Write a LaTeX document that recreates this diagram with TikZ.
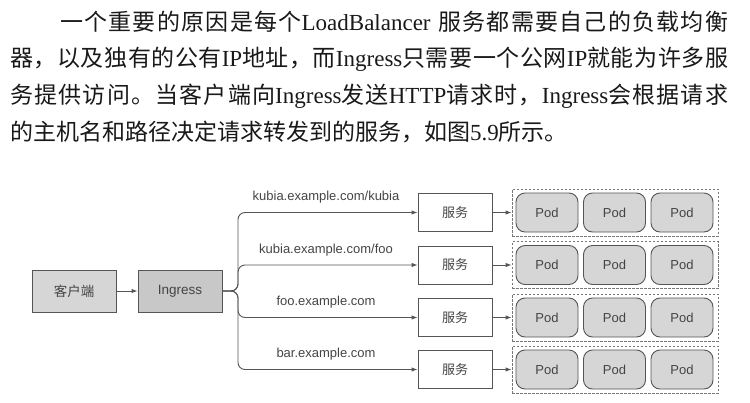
\documentclass[tikz,border=0pt]{standalone}
\usepackage{fontspec}
\setmainfont{Liberation Serif}
\newfontfamily\cjk{Noto Sans CJK SC}
\newfontfamily\dsans{Liberation Sans}
\usetikzlibrary{arrows.meta}
\makeatletter
\newXeTeXintercharclass\hanclass
\count@="3000
\loop
  \XeTeXcharclass\count@=\hanclass
  \advance\count@ by 1
\ifnum\count@<"A000 \repeat
\XeTeXcharclass"FF0C=\hanclass
\makeatother
\XeTeXinterchartoks\hanclass\hanclass={\hskip 0pt plus 2pt\relax}
\XeTeXinterchartoks\hanclass 0={\hskip 0pt plus 2pt\relax}
\XeTeXinterchartoks 0\hanclass={\hskip 0pt plus 2pt\relax}
\XeTeXinterchartokenstate=1
\definecolor{dg}{HTML}{555555}
\definecolor{tg}{HTML}{444444}
\definecolor{clientfill}{HTML}{D6D6D6}
\definecolor{ingfill}{HTML}{C8C8C8}
\definecolor{podfill}{HTML}{D6D6D6}
\definecolor{dashc}{HTML}{777777}
\tikzset{
  para/.style={anchor=west, inner sep=0pt, font=\fontsize{23}{23}\selectfont, text=black!90},
  mainbox/.style={draw=dg, line width=0.9pt, minimum width=84pt, minimum height=42pt, inner sep=0pt, text=tg},
  svcbox/.style={draw=dg, fill=white, line width=0.9pt, minimum width=74pt, minimum height=38pt, inner sep=0pt, text=tg, font=\fontsize{13}{13}\cjk},
  podbox/.style={draw=dg, fill=podfill, rounded corners=9pt, minimum width=62pt, minimum height=39pt, line width=0.9pt, inner sep=0pt, text=tg, font=\fontsize{13}{13}\dsans},
  groupbox/.style={draw=dashc, dash pattern=on 2.5pt off 1.5pt, line width=0.9pt, minimum width=206pt, minimum height=47pt, inner sep=0pt},
  conn/.style={draw=dg, line width=0.9pt, -{Latex[length=6pt,width=4.5pt]}},
  lbl/.style={text=tg, font=\fontsize{13}{13}\dsans, inner sep=0pt}
}
\begin{document}
\begin{tikzpicture}[x=1pt, y=-1pt]
\useasboundingbox (0,0) rectangle (750,402);
% paragraph
\node[para] (l1) at (60,22) {\hbox to 668pt{{\cjk 一个重要的原因是每个}LoadBalancer {\cjk 服务都需要自己的负载均衡}}};
\node[para] (l2) at (10,59) {\hbox to 718pt{{\cjk 器，以及独有的公有}IP{\cjk 地址，而}Ingress{\cjk 只需要一个公网}IP{\cjk 就能为许多服}}};
\node[para] (l3) at (10,96) {\hbox to 718pt{{\cjk 务提供访问。当客户端向}Ingress{\cjk 发送}HTTP{\cjk 请求时，}Ingress{\cjk 会根据请求}}};
\node[para] (l4) at (10,132) {{\cjk 的主机名和路径决定请求转发到的服务，如图}5.9{\cjk 所示。}};
% main boxes
\node[mainbox, fill=clientfill, font=\fontsize{13.5}{13.5}\cjk] (client) at (74,291) {客户端};
\node[mainbox, fill=ingfill, font=\fontsize{13.5}{13.5}\dsans] (ing) at (180,291) {Ingress};
\draw[conn] (client.east) -- (ing.west);
\coordinate (br) at (238,291);
% rows
\foreach \i/\y/\t in {1/212.5/kubia.example.com\slash kubia, 2/265/kubia.example.com\slash foo, 3/317.5/foo.example.com, 4/369.5/bar.example.com}{
  \node[groupbox] (g\i) at (615,\y) {};
  \node[podbox] (p\i a) at (547,\y) {Pod};
  \node[podbox] (p\i b) at (614.5,\y) {Pod};
  \node[podbox] (p\i c) at (682,\y) {Pod};
  \node[svcbox] (s\i) at (455,\y) {服务};
  \draw[conn] (s\i.east) -- (g\i.west);
  \draw[conn, rounded corners=7pt] (ing.east) -- (br) -- (br |- s\i.west) -- (s\i.west);
  \node[lbl] (t\i) at (326,\y-15) {\t};
}
\end{tikzpicture}
\end{document}
